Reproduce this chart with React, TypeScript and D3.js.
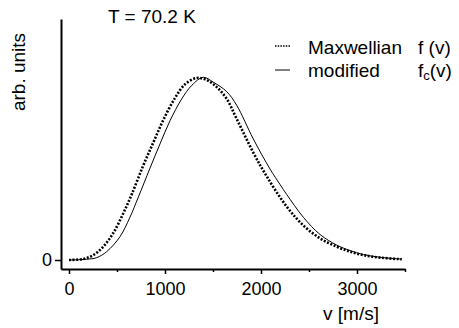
import React, { useEffect, useRef } from "react";
import * as d3 from "d3";

// Maxwellian f(v) (v in m/s, arbitrary units)
const maxwellV = [0, 150, 253, 357, 461, 566, 653, 774, 878, 982, 1104, 1208, 1330, 1430, 1539, 1643, 1747, 1920, 2059, 2268, 2441, 2615, 2789, 2927, 3066, 3240, 3466];
const maxwellF = [0, 0.006, 0.027, 0.073, 0.148, 0.257, 0.36, 0.52, 0.645, 0.769, 0.89, 0.965, 1.0, 0.99, 0.95, 0.885, 0.775, 0.59, 0.46, 0.293, 0.19, 0.119, 0.073, 0.046, 0.027, 0.013, 0.004];

// modified fc(v)
const modV = [0, 180, 289, 393, 531, 635, 722, 844, 948, 1052, 1174, 1280, 1399, 1500, 1643, 1747, 1920, 2094, 2198, 2268, 2441, 2615, 2789, 2927, 3066, 3240, 3466];
const modF = [0, 0.004, 0.013, 0.046, 0.128, 0.235, 0.345, 0.505, 0.638, 0.765, 0.885, 0.96, 1.004, 0.978, 0.925, 0.85, 0.665, 0.5, 0.415, 0.36, 0.235, 0.14, 0.082, 0.052, 0.03, 0.015, 0.005];

const xMajorTicks = [0, 1000, 2000, 3000];
const xMinorTicks = [500, 1500, 2500, 3500];
const yTicks = [0];

const titleText = "T = 70.2 K";
const xLabel = "v [m/s]";
const yLabel = "arb. units";
const legendNames = ["Maxwellian", "modified"];

const FONT = "'Liberation Sans', Arial, Helvetica, sans-serif";

export default function App() {
  const ref = useRef<SVGSVGElement>(null);

  useEffect(() => {
    const svg = d3.select(ref.current);
    svg.selectAll("*").remove();

    const x = d3.scaleLinear().domain([-83.3, 3500]).range([61, 405]);
    const y = d3.scaleLinear().domain([-0.0495, 1.3242]).range([269, 19]);

    // x axis
    const gx = svg.append("g").attr("transform", "translate(0,269)");
    gx.call(
      d3.axisBottom(x).tickValues(xMajorTicks).tickSize(5).tickSizeOuter(0).tickPadding(8).tickFormat(d3.format("d"))
    );
    gx.select(".domain").attr("stroke-width", 2).attr("stroke", "#000");
    gx.selectAll(".tick line").attr("stroke-width", 1.5).attr("stroke", "#000");
    gx.selectAll(".tick text").attr("font-size", 18).attr("font-family", FONT).attr("fill", "#000");
    const gxm = svg.append("g").attr("transform", "translate(0,269)");
    gxm.call(d3.axisBottom(x).tickValues(xMinorTicks).tickSize(3).tickSizeOuter(0).tickFormat(() => ""));
    gxm.select(".domain").remove();
    gxm.selectAll(".tick line").attr("stroke-width", 1.5).attr("stroke", "#000");

    // y axis
    const gy = svg.append("g").attr("transform", "translate(61,0)");
    gy.call(d3.axisLeft(y).tickValues(yTicks).tickSize(6).tickSizeOuter(0).tickPadding(3).tickFormat(d3.format("d")));
    gy.select(".domain").attr("stroke-width", 2).attr("stroke", "#000");
    gy.selectAll(".tick line").attr("stroke-width", 1.5).attr("stroke", "#000");
    gy.selectAll(".tick text").attr("font-size", 18).attr("font-family", FONT).attr("fill", "#000");

    const line = d3
      .line<[number, number]>()
      .x((d) => x(d[0]))
      .y((d) => y(d[1]))
      .curve(d3.curveCatmullRom.alpha(0.5));

    const mData: [number, number][] = maxwellV.map((v, i) => [v, maxwellF[i]]);
    const cData: [number, number][] = modV.map((v, i) => [v, modF[i]]);

    svg
      .append("path")
      .attr("d", line(cData))
      .attr("fill", "none")
      .attr("stroke", "#000")
      .attr("stroke-width", 1);

    svg
      .append("path")
      .attr("d", line(mData))
      .attr("fill", "none")
      .attr("stroke", "#000")
      .attr("stroke-width", 2.6)
      .attr("stroke-dasharray", "2,1.6");

    // texts
    const t = (sel: any) => sel.attr("font-family", FONT).attr("font-size", 19).attr("fill", "#000");
    t(svg.append("text").attr("x", 108).attr("y", 23).text(titleText));
    t(svg.append("text").attr("x", 323).attr("y", 320).text(xLabel));
    t(
      svg
        .append("text")
        .attr("transform", "translate(25,72) rotate(-90)")
        .attr("text-anchor", "middle")
        .text(yLabel)
    );

    // legend
    svg.append("line").attr("x1", 275).attr("x2", 290).attr("y1", 46).attr("y2", 46)
      .attr("stroke", "#000").attr("stroke-width", 1.5).attr("stroke-dasharray", "1.5,1.2");
    svg.append("line").attr("x1", 275).attr("x2", 290).attr("y1", 70).attr("y2", 70)
      .attr("stroke", "#000").attr("stroke-width", 1);
    t(svg.append("text").attr("x", 308).attr("y", 54).text(legendNames[0]));
    t(svg.append("text").attr("x", 308).attr("y", 77).text(legendNames[1]));
    t(svg.append("text").attr("x", 418).attr("y", 54).text("f (v)"));
    const fc = t(svg.append("text").attr("x", 418).attr("y", 77));
    fc.append("tspan").text("f");
    fc.append("tspan").attr("font-size", 13).attr("dy", 3).text("c");
    fc.append("tspan").attr("dy", -3).text("(v)");
  }, []);

  return (
    <svg
      ref={ref as any}
      width={459}
      height={328}
      style={{ position: "absolute", left: 0, top: 0, background: "#fff" }}
    />
  );
}
